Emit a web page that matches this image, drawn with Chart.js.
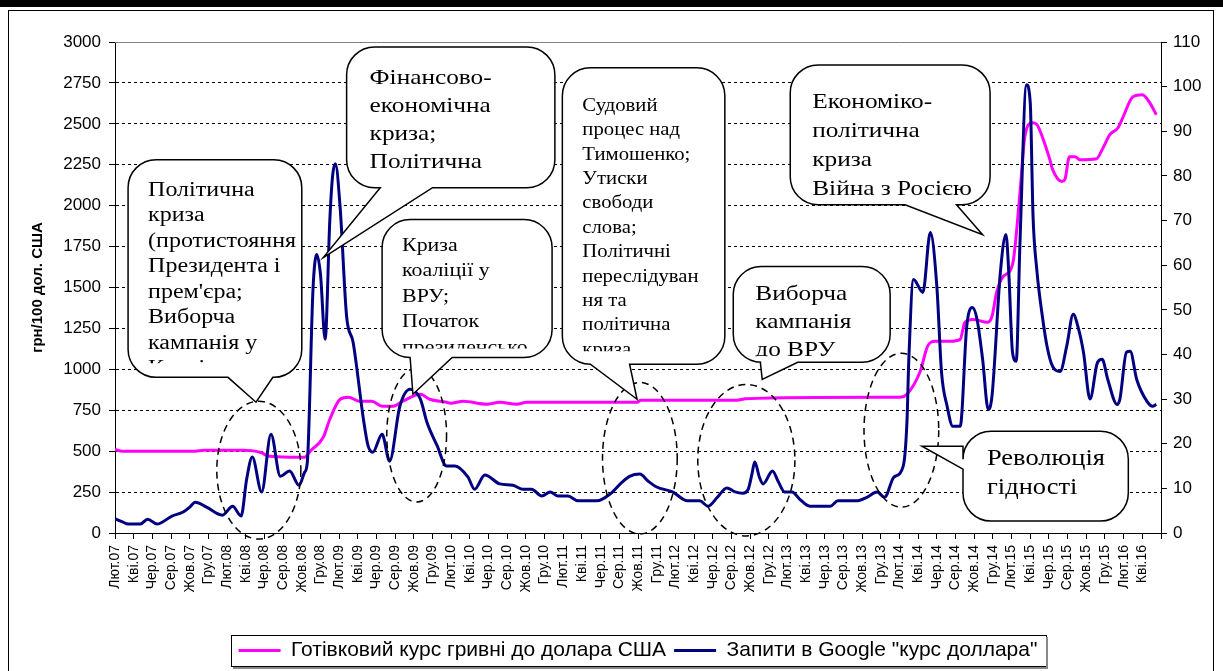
<!DOCTYPE html>
<html>
<head>
<meta charset="utf-8">
<script src="https://cdn.jsdelivr.net/npm/chart.js@4.4.0/dist/chart.umd.min.js"></script>
<style>
  html, body { margin: 0; padding: 0; background: #fff; }
  #chart { display: block; }
</style>
</head>
<body>
<canvas id="chart" width="1223" height="671"></canvas>
<script>
// x axis = months counted from Feb 2007 (0 = Лют.07), one label every 2 months
const tickLabels = [
  'Лют.07', 'Кві.07', 'Чер.07', 'Сер.07', 'Жов.07', 'Гру.07',
  'Лют.08', 'Кві.08', 'Чер.08', 'Сер.08', 'Жов.08', 'Гру.08',
  'Лют.09', 'Кві.09', 'Чер.09', 'Сер.09', 'Жов.09', 'Гру.09',
  'Лют.10', 'Кві.10', 'Чер.10', 'Сер.10', 'Жов.10', 'Гру.10',
  'Лют.11', 'Кві.11', 'Чер.11', 'Сер.11', 'Жов.11', 'Гру.11',
  'Лют.12', 'Кві.12', 'Чер.12', 'Сер.12', 'Жов.12', 'Гру.12',
  'Лют.13', 'Кві.13', 'Чер.13', 'Сер.13', 'Жов.13', 'Гру.13',
  'Лют.14', 'Кві.14', 'Чер.14', 'Сер.14', 'Жов.14', 'Гру.14',
  'Лют.15', 'Кві.15', 'Чер.15', 'Сер.15', 'Жов.15', 'Гру.15',
  'Лют.16', 'Кві.16'
];

// Cash UAH/USD rate, грн per 100 USD (left axis)
const rateMonths = [0, 0.8, 8.6, 9.5, 13.7, 15.7, 16.4, 18.7, 20.3, 20.9, 22.3, 23.0, 24.1, 25.0,
  26.2, 27.5, 28.6, 29.8, 30.8, 32.7, 33.7, 35.5, 35.9, 37.3, 39.8, 41.2, 43.0, 44.1, 55.9,
  56.3, 66.6, 67.5, 81.6, 84.0, 84.8, 86.2, 87.0, 87.8, 89.4, 90.5, 91.0, 91.9, 93.4, 93.9,
  94.4, 95.1, 96.1, 96.9, 97.4, 98.2, 98.7, 99.4, 100.1, 100.4, 101.4, 101.7, 102.2, 102.8,
  103.3, 105.1, 105.8, 106.5, 107.4, 107.9, 109.0, 110.0, 110.8, 111.5];
const rateValues = [510, 500, 500, 505, 505, 490, 470, 463, 463, 500, 585, 695, 817, 830,
  805, 805, 775, 775, 805, 848, 817, 799, 793, 805, 787, 799, 787, 799, 799,
  811, 811, 820, 829, 829, 848, 985, 1140, 1171, 1171, 1183, 1287, 1305, 1287, 1323,
  1470, 1567, 1640, 2079, 2415, 2506, 2496, 2403, 2281, 2220, 2147, 2159, 2299, 2299,
  2281, 2287, 2354, 2433, 2476, 2537, 2665, 2677, 2628, 2555];

// Google queries "курс доллара", index 0-100 (right axis)
const searchMonths = [0, 0.8, 1.4, 2.7, 3.5, 4.5, 6.1, 7.3, 8.0, 8.6, 9.8, 11.5, 12.6, 13.5,
  14.1, 14.7, 15.7, 16.7, 17.7, 18.7, 19.7, 20.3, 20.6, 21.2, 21.6, 22.0, 22.5, 23.0, 23.3,
  23.6, 24.1, 24.8, 25.5, 26.6, 27.1, 27.6, 28.6, 29.4, 30.5, 31.6, 32.7, 33.4, 34.5, 35.5,
  36.4, 37.8, 38.5, 39.6, 41.2, 42.6, 43.7, 44.6, 45.7, 46.6, 47.4, 48.5, 49.6, 51.6, 53.0,
  54.3, 55.1, 56.2, 57.1, 58.0, 59.7, 61.3, 62.6, 63.5, 64.5, 65.5, 66.4, 67.2, 67.8, 68.2,
  68.5, 69.0, 69.4, 70.4, 71.0, 71.7, 72.5, 73.3, 74.4, 76.6, 77.4, 79.4, 80.5, 81.6, 82.4,
  83.4, 84.4, 84.8, 85.0, 85.5, 86.5, 87.3, 88.0, 88.5, 89.1, 89.7, 90.5, 91.2, 91.8, 92.3,
  92.9, 93.5, 93.9, 94.8, 95.4, 95.7, 96.1, 96.5, 96.9, 97.6, 98.0, 98.3, 98.7, 99.3, 99.8,
  100.4, 101.2, 101.9, 102.6, 103.1, 103.7, 104.4, 105.2, 105.7, 106.3, 107.3, 107.6, 108.3,
  108.7, 109.4, 110.5, 111.1, 111.5];
const searchValues = [3.2, 2.5, 2.0, 2.0, 3.1, 2.0, 3.8, 4.7, 5.8, 6.9, 5.8, 4.0, 6.0, 3.8,
  12.1, 17.0, 9.2, 22.1, 12.7, 13.9, 10.7, 13.6, 16, 54.6, 62.4, 58, 43.4, 70, 80,
  82.7, 73.1, 48.5, 42.7, 25.5, 19.5, 18.1, 22.1, 16.1, 28.4, 32.2, 30.0, 24.8, 19.5, 15.0,
  15.0, 12.5, 9.8, 13.0, 11.0, 10.7, 9.8, 9.8, 8.3, 9.2, 8.3, 8.3, 7.2, 7.2, 8.7,
  11.4, 12.7, 13.2, 11.6, 10.3, 9.2, 7.2, 7.2, 6.0, 8.0, 10.1, 9.2, 8.9, 9.8, 13.2,
  15.9, 12.5, 11.0, 13.9, 11.6, 9.2, 9.2, 7.6, 6.0, 6.0, 7.2, 7.2, 8.0, 9.2, 8.0,
  12.5, 15.0, 25, 39, 56.8, 53.9, 67.3, 55.2, 36.0, 28.4, 23.9, 23.9, 46.3, 50.5, 47.9,
  38.9, 27.7, 30.6, 58.4, 66.9, 58.4, 40.5, 38.5, 65.1, 100.4, 96.4, 70.9, 59.0, 48.5, 41.8,
  37.3, 36.2, 41.8, 49.0, 46.3, 40.5, 30.0, 38.2, 38.9, 34.4, 28.8, 30.0, 40.5,
  40.7, 34.4, 29.5, 28.4, 28.8];

// Callouts, positioned in data space (x: month, y: left axis value)
const callouts = [
  { x1: 1.4, x2: 20.0, y1: 2281, y2: 951, side: 'bottom', a: 12.1, b: 16.9, tx: 15.1, ty: 799,
    size: 20, sx: 1.2, lh: 25.5, padX: 20, first: 36, clip: 16,
    lines: ['Політична', 'криза', '(протистояння', 'Президента і', "прем'єра;", 'Виборча', 'кампанія у', 'Києві'] },
  { x1: 24.8, x2: 47.1, y1: 2970, y2: 2110, side: 'bottom', a: 28.4, b: 34.0, tx: 22.3, ty: 1683,
    size: 22, sx: 1.15, lh: 28, padX: 23, first: 37, clip: 8,
    lines: ['Фінансово-', 'економічна', 'криза;', 'Політична'] },
  { x1: 28.6, x2: 46.8, y1: 1915, y2: 1073, side: 'bottom', a: 31.6, b: 36.1, tx: 31.9, ty: 848,
    size: 19, sx: 1.15, lh: 25.5, padX: 20, first: 31, clip: 11,
    lines: ['Криза', 'коаліції у', 'ВРУ;', 'Початок', 'президенсько'] },
  { x1: 47.9, x2: 65.3, y1: 2842, y2: 1031, side: 'bottom', a: 50.9, b: 55.1, tx: 55.9, ty: 817,
    size: 18, sx: 1.15, lh: 24.4, padX: 20, first: 43, clip: 15,
    lines: ['Судовий', 'процес над', 'Тимошенко;', 'Утиски', 'свободи', 'слова;', 'Політичні', 'переслідуван', 'ня та', 'політична', 'криза'] },
  { x1: 66.2, x2: 83.0, y1: 1628, y2: 1043, side: 'bottom', a: 69.1, b: 73.1, tx: 69.3, ty: 939,
    size: 22, sx: 1.15, lh: 28, padX: 22, first: 33, clip: 8,
    lines: ['Виборча', 'кампанія', 'до ВРУ'] },
  { x1: 72.3, x2: 93.7, y1: 2860, y2: 2006, side: 'bottom', a: 84.6, b: 90.1, tx: 92.9, ty: 1823,
    size: 22, sx: 1.15, lh: 29, padX: 22, first: 43, clip: 8,
    lines: ['Економіко-', 'політична', 'криза', 'Війна з Росією'] },
  { x1: 90.8, x2: 108.5, y1: 622, y2: 73, side: 'left', a: 530, b: 390, tx: 86.4, ty: 530,
    size: 23, sx: 1.15, lh: 29, padX: 24, first: 34, clip: 8,
    lines: ['Революція', 'гідності'] }
];

// Dashed ellipses: centre (month, value) and radii
const ellipses = [
  { cx: 15.4, cy: 384, rx: 4.5, ry: 421 },
  { cx: 32.3, cy: 598, rx: 3.2, ry: 409 },
  { cx: 56.2, cy: 457, rx: 4.0, ry: 463 },
  { cx: 67.6, cy: 445, rx: 5.2, ry: 463 },
  { cx: 84.2, cy: 628, rx: 4.0, ry: 470 }
];

const SANS = "'Liberation Sans', Arial, sans-serif";
const SERIF = "'Liberation Serif', 'Times New Roman', serif";

function calloutPath(ctx, x1, y1, x2, y2, r, p) {
  ctx.beginPath();
  ctx.moveTo(x1 + r, y1);
  ctx.lineTo(x2 - r, y1);
  ctx.arcTo(x2, y1, x2, y1 + r, r);
  ctx.lineTo(x2, y2 - r);
  ctx.arcTo(x2, y2, x2 - r, y2, r);
  if (p.side === 'bottom') {
    ctx.lineTo(Math.max(p.a, p.b), y2);
    ctx.lineTo(p.tx, p.ty);
    ctx.lineTo(Math.min(p.a, p.b), y2);
  }
  ctx.lineTo(x1 + r, y2);
  ctx.arcTo(x1, y2, x1, y2 - r, r);
  if (p.side === 'left') {
    ctx.lineTo(x1, Math.max(p.a, p.b));
    ctx.lineTo(p.tx, p.ty);
    ctx.lineTo(x1, Math.min(p.a, p.b));
  }
  ctx.lineTo(x1, y1 + r);
  ctx.arcTo(x1, y1, x1 + r, y1, r);
  ctx.closePath();
}

const framePlugin = {
  id: 'frame',
  beforeDraw(chart) {
    const ctx = chart.ctx;
    ctx.save();
    ctx.fillStyle = '#fff';
    ctx.fillRect(0, 0, chart.width, chart.height);
    ctx.fillStyle = '#000';
    ctx.fillRect(0, 0, chart.width, 7);
    ctx.strokeStyle = '#000';
    ctx.lineWidth = 1;
    ctx.strokeRect(8.5, 10.5, 1205, 700);
    ctx.restore();
  },
  beforeDatasetsDraw(chart) {
    const ctx = chart.ctx, a = chart.chartArea;
    ctx.save();
    ctx.strokeStyle = '#808080';
    ctx.lineWidth = 1;
    ctx.beginPath();
    ctx.moveTo(a.left, a.top + 0.5);
    ctx.lineTo(a.right, a.top + 0.5);
    ctx.stroke();
    ctx.restore();
  },
  afterDatasetsDraw(chart) {
    const ctx = chart.ctx;
    const xs = chart.scales.x, ys = chart.scales.y;
    ctx.save();
    // ellipses
    ctx.setLineDash([7, 5]);
    ctx.lineWidth = 1.5;
    ctx.strokeStyle = '#000';
    ellipses.forEach(e => {
      const cx = xs.getPixelForValue(e.cx), cy = ys.getPixelForValue(e.cy);
      const rx = xs.getPixelForValue(e.cx + e.rx) - cx;
      const ry = cy - ys.getPixelForValue(e.cy + e.ry);
      ctx.beginPath();
      ctx.ellipse(cx, cy, rx, ry, 0, 0, Math.PI * 2);
      ctx.stroke();
    });
    ctx.setLineDash([]);
    // callouts
    callouts.forEach(c => {
      const x1 = xs.getPixelForValue(c.x1), x2 = xs.getPixelForValue(c.x2);
      const y1 = ys.getPixelForValue(c.y1), y2 = ys.getPixelForValue(c.y2);
      const p = { side: c.side, tx: xs.getPixelForValue(c.tx), ty: ys.getPixelForValue(c.ty) };
      if (c.side === 'bottom') {
        p.a = xs.getPixelForValue(c.a); p.b = xs.getPixelForValue(c.b);
      } else {
        p.a = ys.getPixelForValue(c.a); p.b = ys.getPixelForValue(c.b);
      }
      calloutPath(ctx, x1, y1, x2, y2, 28, p);
      ctx.fillStyle = '#fff';
      ctx.fill();
      ctx.lineWidth = 1.5;
      ctx.strokeStyle = '#000';
      ctx.stroke();
      ctx.save();
      ctx.beginPath();
      ctx.rect(x1 + 2, y1 + 2, x2 - x1 - 4, y2 - y1 - c.clip);
      ctx.clip();
      ctx.fillStyle = '#000';
      ctx.font = c.size + 'px ' + SERIF;
      ctx.textBaseline = 'alphabetic';
      ctx.textAlign = 'left';
      c.lines.forEach((t, i) => {
        ctx.save();
        ctx.translate(x1 + c.padX, y1 + c.first + i * c.lh);
        ctx.scale(c.sx, 1);
        ctx.fillText(t, 0, 0);
        ctx.restore();
      });
      ctx.restore();
    });
    ctx.restore();
  },
  afterDraw(chart) {
    const boxes = chart.legend && chart.legend.legendHitBoxes;
    if (!boxes || !boxes.length) return;
    const left = Math.min(...boxes.map(b => b.left)) - 8;
    const right = Math.max(...boxes.map(b => b.left + b.width)) + 8;
    const top = boxes[0].top - 5;
    const bottom = boxes[0].top + boxes[0].height + 5;
    const ctx = chart.ctx;
    ctx.save();
    ctx.strokeStyle = '#000';
    ctx.lineWidth = 1;
    ctx.strokeRect(Math.round(left) + 0.5, Math.round(top) + 0.5, Math.round(right - left), Math.round(bottom - top));
    ctx.strokeStyle = '#888';
    ctx.lineWidth = 2;
    ctx.beginPath();
    ctx.moveTo(Math.round(left) + 2, Math.round(bottom) + 2);
    ctx.lineTo(Math.round(right) + 2, Math.round(bottom) + 2);
    ctx.lineTo(Math.round(right) + 2, Math.round(top) + 2);
    ctx.stroke();
    ctx.restore();
  }
};

const toPoints = (xs, ys) => xs.map((m, i) => ({ x: m, y: ys[i] }));

new Chart(document.getElementById('chart'), {
  type: 'line',
  data: {
    datasets: [
      {
        label: 'Готівковий курс гривні до долара США',
        data: toPoints(rateMonths, rateValues),
        yAxisID: 'y',
        borderColor: '#ff00ff',
        backgroundColor: '#ff00ff',
        borderWidth: 3,
        pointRadius: 0,
        cubicInterpolationMode: 'monotone',
        order: 2
      },
      {
        label: 'Запити в Google "курс доллара"',
        data: toPoints(searchMonths, searchValues),
        yAxisID: 'y1',
        borderColor: '#000080',
        backgroundColor: '#000080',
        borderWidth: 3,
        pointRadius: 0,
        cubicInterpolationMode: 'monotone',
        order: 1
      }
    ]
  },
  options: {
    responsive: false,
    animation: false,
    devicePixelRatio: 1,
    layout: { padding: { top: 42, left: 29, right: 0, bottom: 0 } },
    plugins: {
      tooltip: { enabled: false },
      legend: {
        position: 'bottom',
        fullSize: false,
        labels: {
          color: '#000',
          font: { family: SANS, size: 21 },
          usePointStyle: true,
          pointStyle: 'line',
          pointStyleWidth: 42,
          padding: 8,
          sort: (a, b) => a.datasetIndex - b.datasetIndex
        }
      }
    },
    scales: {
      x: {
        type: 'linear',
        min: 0,
        max: 112,
        afterFit: s => { s.height = 99; },
        ticks: {
          stepSize: 2,
          autoSkip: false,
          maxRotation: 90,
          minRotation: 90,
          padding: 6,
          color: '#000',
          font: { family: SANS, size: 14 },
          callback: v => tickLabels[v / 2] || ''
        },
        grid: { drawOnChartArea: false, tickLength: 6, tickColor: '#000' },
        border: { color: '#000', width: 1 }
      },
      y: {
        position: 'left',
        min: 0,
        max: 3000,
        afterFit: s => { s.width = 86; },
        ticks: {
          stepSize: 250, padding: 8, color: '#000', font: { family: SANS, size: 17 },
          callback: v => String(v)
        },
        title: {
          display: true,
          text: 'грн/100 дол. США',
          color: '#000',
          font: { family: SANS, size: 15, weight: 'bold' },
          padding: 0
        },
        grid: {
          color: ctx => (ctx.tick && (ctx.tick.value === 0 || ctx.tick.value === 3000)) ? 'rgba(0,0,0,0)' : '#000',
          lineWidth: 1,
          tickLength: 6,
          tickColor: '#000',
          tickBorderDash: []
        },
        border: { color: '#000', width: 1, dash: [3, 3] }
      },
      y1: {
        position: 'right',
        min: 0,
        max: 110,
        afterFit: s => { s.width = 62; },
        ticks: { stepSize: 10, padding: 6, color: '#000', font: { family: SANS, size: 17 } },
        grid: { drawOnChartArea: false, tickLength: 6, tickColor: '#000' },
        border: { color: '#000', width: 1 }
      }
    }
  },
  plugins: [framePlugin]
});
</script>
</body>
</html>
